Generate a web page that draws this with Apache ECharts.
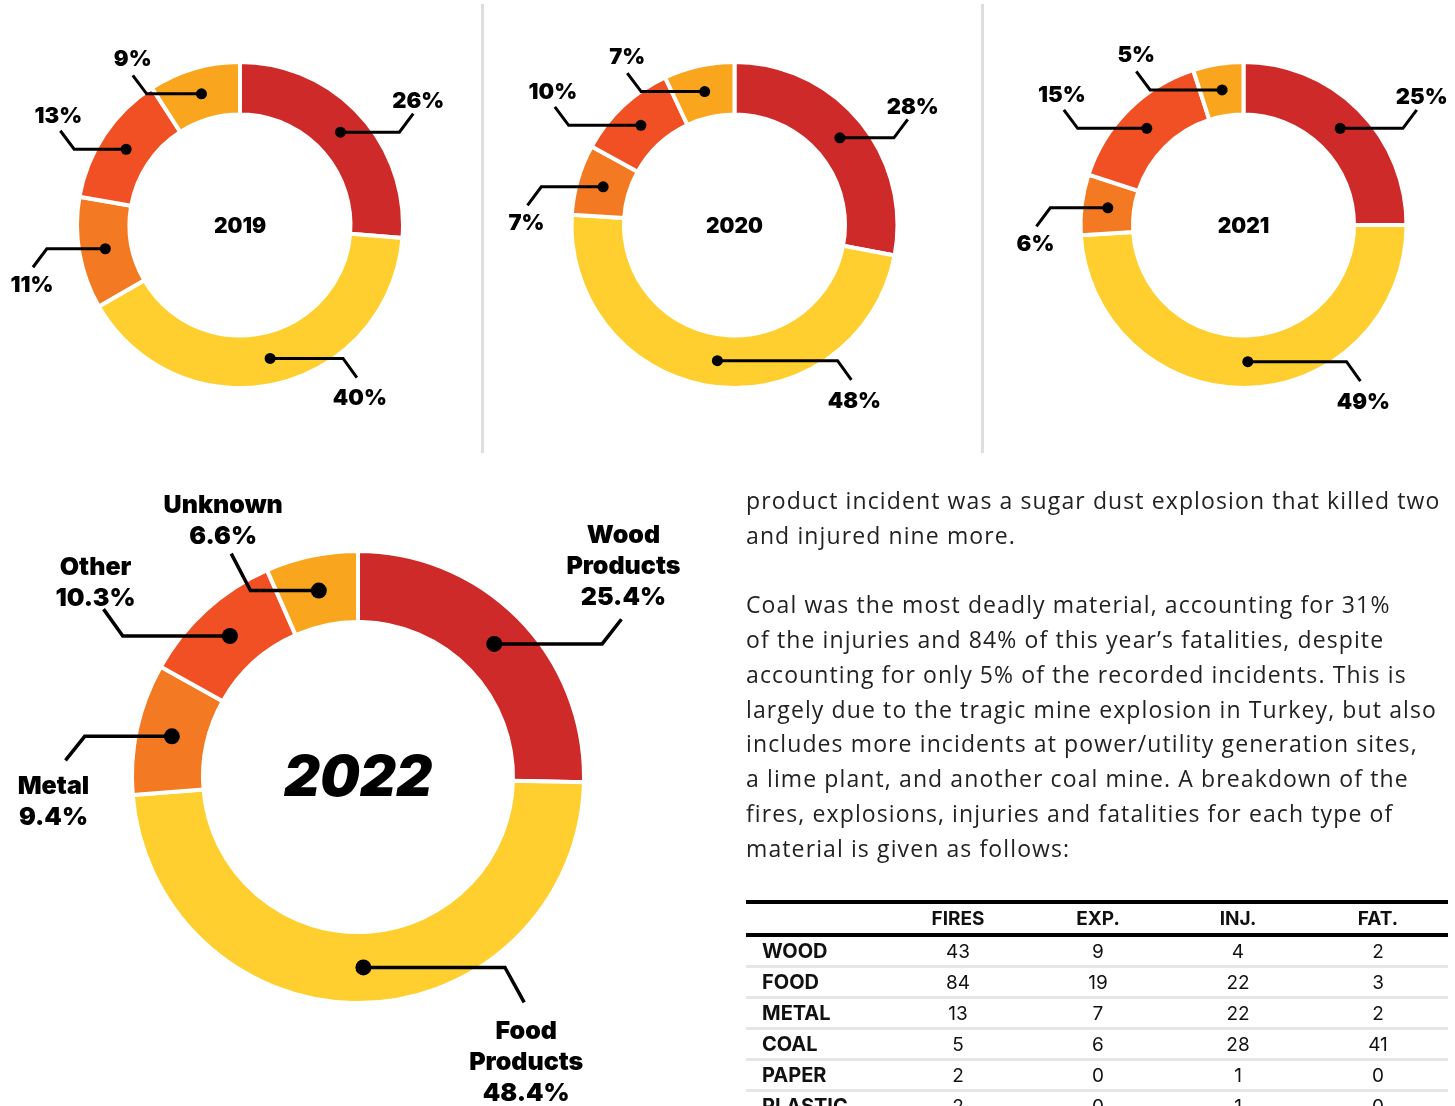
<!DOCTYPE html>
<html>
<head>
<meta charset="utf-8">
<script src="https://cdn.jsdelivr.net/npm/echarts@6/dist/echarts.min.js"></script>
<style>
html,body{margin:0;padding:0;width:1455px;height:1106px;overflow:hidden;background:#fff;}
#chart{position:absolute;left:0;top:0;width:1455px;height:1106px;}
#text{position:absolute;left:746px;top:483px;font-family:'Open Sans',sans-serif;font-size:23px;line-height:34.75px;color:#222;white-space:nowrap;}
#tbl{position:absolute;left:746px;top:900px;width:702px;border-collapse:collapse;font-family:Inter,Roboto,sans-serif;color:#111;table-layout:fixed;}
#tbl th{height:29px;padding:0;font-size:19px;font-weight:700;text-align:center;}
#tbl thead tr{border-top:4px solid #000;border-bottom:4px solid #000;}
#tbl td{height:28px;padding:0;font-size:19px;font-weight:400;text-align:center;}
#tbl tbody tr{border-bottom:3px solid #e6e6e6;}
#tbl td.rl{text-align:left;padding-left:16px;font-weight:700;font-size:20px;}
</style>
</head>
<body>
<div id="chart"></div>
<div id="text"></div>
<table id="tbl"><colgroup><col style="width:142px"><col style="width:140px"><col style="width:140px"><col style="width:140px"><col style="width:140px"></colgroup><thead></thead><tbody></tbody></table>
<script>
// ---------- data ----------
const categories = ['Wood Products', 'Food Products', 'Metal', 'Other', 'Unknown'];
const years = ['2019', '2020', '2021', '2022'];
const share2019 = [26, 40, 11, 13, 9];
const share2020 = [28, 48, 7, 10, 7];
const share2021 = [25, 49, 6, 15, 5];
const share2022 = [25.4, 48.4, 9.4, 10.3, 6.6];

const tableRows = ['WOOD', 'FOOD', 'METAL', 'COAL', 'PAPER', 'PLASTIC'];
const tableCols = ['FIRES', 'EXP.', 'INJ.', 'FAT.'];
const fires = [43, 84, 13, 5, 2, 2];
const explosions = [9, 19, 7, 6, 0, 0];
const injuries = [4, 22, 22, 28, 1, 1];
const fatalities = [2, 3, 2, 41, 0, 0];

const paragraphLines = [
  'product incident was a sugar dust explosion that killed two',
  'and injured nine more.',
  '',
  'Coal was the most deadly material, accounting for 31%',
  'of the injuries and 84% of this year\u2019s fatalities, despite',
  'accounting for only 5% of the recorded incidents. This is',
  'largely due to the tragic mine explosion in Turkey, but also',
  'includes more incidents at power/utility generation sites,',
  'a lime plant, and another coal mine. A breakdown of the',
  'fires, explosions, injuries and fatalities for each type of',
  'material is given as follows:'
];

// ---------- styles / layout ----------
const colors = ['#CE2A29', '#FFCF2F', '#F37A22', '#F15024', '#F9A61E'];
const labelFont = 'Inter, Roboto, sans-serif';
const donuts = [
  { cx: 240, cy: 225, r0: 112.5, r1: 161, big: false },
  { cx: 734.5, cy: 225, r0: 112.5, r1: 161, big: false },
  { cx: 1243.5, cy: 225, r0: 112.5, r1: 161, big: false },
  { cx: 358, cy: 777, r0: 157, r1: 224, big: true }
];
const leaderSmall = [
  { ex: 0.99, dy: 0.115, down: false, lx: 5, ly: 0 },
  { ex: 0.64, dy: 0.12, down: true, lx: 3, ly: 9 },
  { ex: -1.2, dy: 0.115, down: true, lx: 1, ly: 6 },
  { ex: -1.03, dy: 0.115, down: false, lx: 2, ly: 2 },
  { ex: -0.58, dy: 0.115, down: false, lx: 0, ly: 4 }
];
const leaderBig = [
  { ex: 1.09, dy: 0.11, down: false, lx: 2, ly: 6 },
  { ex: 0.656, dy: 0.156, down: true, lx: 2, ly: 14 },
  { ex: -1.22, dy: 0.107, down: true, lx: 12, ly: 11 },
  { ex: -1.05, dy: 0.12, down: false, lx: 8, ly: -5 },
  { ex: -0.48, dy: 0.165, down: false, lx: 8, ly: 2 }
];
const allShares = [share2019, share2020, share2021, share2022];

// ---------- text & table ----------
const textEl = document.getElementById('text');
textEl.innerHTML = paragraphLines.map(l => l === '' ? '&nbsp;' : '<span>' + l + '</span>').join('<br>');
(function () {
  const spans = textEl.querySelectorAll('span');
  const ref = spans[5]; // "largely due to ..." line
  const w = ref.getBoundingClientRect().width;
  const n = paragraphLines[6].length;
  const ls = (691 - w) / n;
  textEl.style.letterSpacing = ls.toFixed(3) + 'px';
})();
const thead = document.querySelector('#tbl thead');
thead.innerHTML = '<tr><th></th>' + tableCols.map(c => '<th>' + c + '</th>').join('') + '</tr>';
const tbody = document.querySelector('#tbl tbody');
tbody.innerHTML = tableRows.map((r, i) =>
  '<tr><td class="rl">' + r + '</td><td>' + fires[i] + '</td><td>' + explosions[i] +
  '</td><td>' + injuries[i] + '</td><td>' + fatalities[i] + '</td></tr>').join('');

// ---------- chart ----------
const chart = echarts.init(document.getElementById('chart'), null, { renderer: 'canvas' });
const series = [], polar = [], angleAxis = [], radiusAxis = [];
const graphic = [
  { type: 'rect', shape: { x: 481, y: 4, width: 3, height: 449 }, style: { fill: '#dedede' }, silent: true },
  { type: 'rect', shape: { x: 981, y: 4, width: 3, height: 449 }, style: { fill: '#dedede' }, silent: true }
];

function makeLayout(cfg, values) {
  const total = values.reduce((a, b) => a + b, 0);
  const mids = []; let c = 0;
  values.forEach(v => { mids.push(c + v / 2); c += v; });
  const rm = (cfg.r0 + cfg.r1) / 2;
  const R = cfg.r1;
  const specs = cfg.big ? leaderBig : leaderSmall;
  return function (params) {
    const i = params.dataIndex;
    const a = mids[i] / total * 2 * Math.PI;
    const px = cfg.cx + rm * Math.sin(a), py = cfg.cy - rm * Math.cos(a);
    const s = specs[i];
    const dir = s.ex > 0 ? 1 : -1;
    const vs = s.down ? 1 : -1;
    const hx = cfg.cx + s.ex * R;
    const ex = hx + dir * 0.086 * R;
    const ey = py + vs * s.dy * R;
    return {
      x: ex + dir * s.lx,
      y: ey + vs * s.ly,
      align: 'center',
      verticalAlign: s.down ? 'top' : 'bottom',
      labelLinePoints: [[px, py], [hx, py], [ex, ey]]
    };
  };
}

donuts.forEach((cfg, k) => {
  const values = allShares[k];
  const total = values.reduce((a, b) => a + b, 0);
  const bw = 4;
  const pieData = categories.map((n, i) => ({ name: n, value: values[i], itemStyle: { color: colors[i] } }));
  // coloured ring
  series.push({
    type: 'pie',
    center: [cfg.cx, cfg.cy],
    radius: [cfg.r0 - bw / 2, cfg.r1 + bw / 2],
    startAngle: 90,
    clockwise: true,
    silent: true,
    z: 2,
    data: pieData,
    itemStyle: { borderColor: '#fff', borderWidth: bw },
    label: { show: false },
    labelLine: { show: false }
  });
  // transparent twin ring that carries the labels and leader lines on top
  series.push({
    type: 'pie',
    center: [cfg.cx, cfg.cy],
    radius: [cfg.r0, cfg.r1],
    startAngle: 90,
    clockwise: true,
    avoidLabelOverlap: false,
    silent: true,
    z: 4,
    data: categories.map((n, i) => ({ name: n, value: values[i] })),
    itemStyle: { color: 'rgba(0,0,0,0)', borderWidth: 0 },
    label: {
      show: true,
      position: 'outside',
      color: '#000',
      fontFamily: labelFont,
      fontWeight: 900,
      fontSize: cfg.big ? 25 : 22,
      lineHeight: cfg.big ? 31 : 24,
      align: 'center',
      formatter: cfg.big
        ? (p => p.name.replace(' ', '\n') + '\n' + p.value + '%')
        : (p => p.value + '%')
    },
    labelLine: { show: true, showAbove: true, length: 5, length2: 5, smooth: false, lineStyle: { color: '#000', width: cfg.big ? 3.5 : 3, opacity: 1 } },
    labelLayout: makeLayout(cfg, values)
  });
  polar.push({ center: [cfg.cx, cfg.cy], radius: cfg.r1 });
  angleAxis.push({ polarIndex: k, type: 'value', min: 0, max: total, startAngle: 90, clockwise: true, show: false });
  radiusAxis.push({ polarIndex: k, type: 'value', min: 0, max: 1, show: false });
  const rmFrac = (cfg.r0 + cfg.r1) / 2 / cfg.r1;
  let cum = 0;
  const dots = values.map(v => { const d = [rmFrac, cum + v / 2]; cum += v; return d; });
  series.push({
    type: 'scatter',
    coordinateSystem: 'polar',
    polarIndex: k,
    data: dots,
    symbol: 'circle',
    symbolSize: cfg.big ? 16 : 11,
    itemStyle: { color: '#000', opacity: 1 },
    silent: true,
    z: 5
  });
  graphic.push({
    type: 'text',
    x: cfg.cx, y: cfg.cy + 2,
    silent: true,
    style: {
      text: years[k],
      align: 'center',
      verticalAlign: 'middle',
      fill: '#000',
      font: cfg.big ? 'italic 900 56px ' + labelFont : '900 21px ' + labelFont
    }
  });
});

chart.setOption({
  animation: false,
  backgroundColor: '#fff',
  polar, angleAxis, radiusAxis,
  series,
  graphic
});
</script>
</body>
</html>
